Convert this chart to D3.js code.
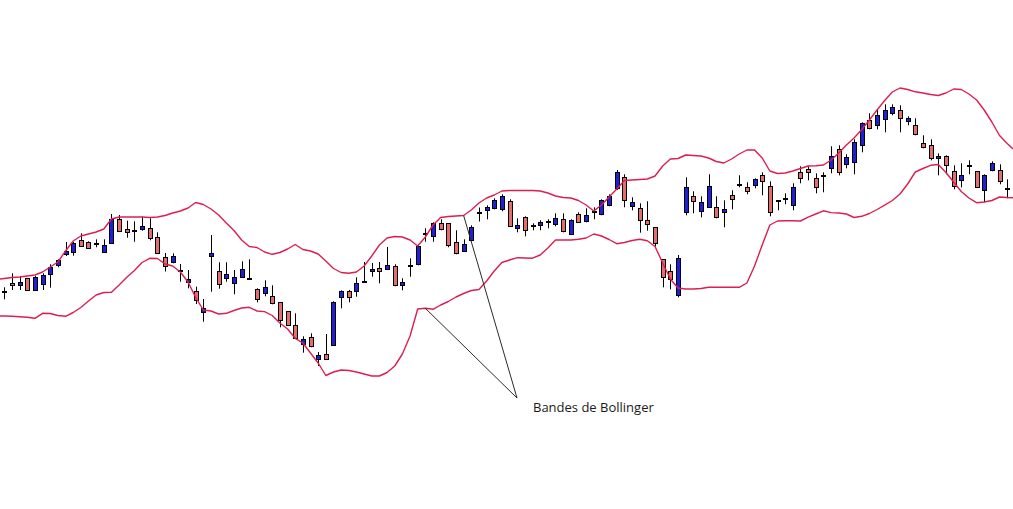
<!DOCTYPE html>
<html>
<head>
<meta charset="utf-8">
<script src="https://cdn.jsdelivr.net/npm/d3@7"></script>
<style>
  html, body { margin: 0; padding: 0; background: #ffffff; }
  svg { display: block; }
</style>
</head>
<body>
<div id="chart"></div>
<script>
// ---- Data (price units) ----
const opens = [208.3,216.7,214.7,221.7,209.7,215.7,225.7,234.7,245.7,248.3,259.7,257.7,256.3,248.3,257.3,280.7,271,269.3,271,272,263,243.5,238.3,229.3,217.7,209,188,243.7,228.7,221.7,216.7,222.7,221.3,210.7,206.7,203.7,197.7,188.7,174.7,156.5,162.7,140.7,145.7,154.7,202.7,208.7,208.7,218.3,228.7,231.7,230.7,233.7,214.7,234,235.7,265.7,263.7,276.7,276.7,257.7,249.5,259.7,287.5,289.7,291.7,290.7,298.7,271.7,282.7,273.7,274.7,277.7,275.7,280.7,265.7,285.7,278.7,287.7,285.7,294.7,312,322.7,293.7,291.7,279.7,272.7,240.7,228.7,204.7,287.7,303.7,288.7,292.7,292.7,287.7,304.7,314.7,312.7,314.7,324.7,313.7,298.7,300.7,294.7,327.7,330.7,321.7,323.7,331.7,350.7,335.7,337.7,354.7,379.7,374.7,380.7,386.7,389.7,378.7,374.7,356.7,354.7,341.7,343.7,328.7,319.7,333.7,328.7,309.7,329.7,329.7,310.7];
const highs = [212.7,226.7,224,222,224,226.7,235.7,240.7,258,258,266.7,258.7,260.7,260.7,286,285,279.3,278.7,283.3,281.7,267.7,247,246.7,236,230,213.3,201,265,237.7,237.7,230,238.7,240.7,211.7,219.7,214.7,198,189,186.7,163.7,166.7,148,166,198.7,209.7,210,222.7,238,237,238,253,235.7,221.7,241.7,255.7,271.7,277.7,280.7,276.7,269.7,260.7,274.7,292.5,294.7,301.7,305.7,300.7,281.7,283.7,276.7,279.7,280.7,286.7,286.7,280.7,287.7,291.7,292.7,300.7,305.7,330,325.7,302.7,296.7,298.7,272.7,240.7,235.7,245,322.7,308.7,303.7,325.7,303.7,299.7,309.7,324.7,317.7,321.7,327.7,318.7,299.7,306.7,316.7,333.7,333.7,326.7,327.7,353.7,354.7,345.7,360.7,377.7,386.7,390.7,395.7,395.7,394.7,383.7,381.7,364.7,360.7,346.7,344.7,334.7,336.7,339.7,328.7,325.7,338.7,335.7,320.7];
const lows = [200.7,210,210,210,209.3,210,212.3,232.7,244,244.3,253,251.3,252.7,247.7,256.3,268,262.3,258.3,269.3,259.7,246,228.5,236.7,218.3,211.7,196,178.3,208.3,211.3,218.3,205.7,222.7,220.7,197.7,203.7,195.7,172.7,174.3,161.7,147.3,152.7,134,140,154.7,191.7,197.7,203.3,217.3,223.3,216.7,230.7,213.7,209.7,223.3,234.7,258.3,258.3,269.7,252.7,245.7,248.7,258.7,278.5,280.7,290.7,288.7,273.7,267.7,263.7,269.7,269.7,271.7,273.7,267.7,265.7,277.7,277.7,280.7,284.7,293.7,310,292.7,289.7,267.3,269.3,253.3,212.7,210.7,202.7,284.7,286.7,282.7,292.7,281.7,272.7,290.7,312.7,305.7,311.7,304.7,283.7,289.7,295.7,289.7,316.7,319.7,306.7,307.7,326.7,324.7,331.7,325.7,347.7,370.7,370.7,367.7,384.7,367.7,374.7,364.7,351.7,339.7,324.7,325.7,310.7,312.7,325.7,312.7,297.7,328.7,315.7,301.7];
const closes = [208.3,214.7,218,210.3,222.7,225.3,233,240,249,256.7,253.7,252.3,256.3,255,280.7,268.7,267.7,269.3,273.7,261.7,246.7,233.5,243.7,229.3,221,200.3,191.7,246.7,215.7,225.7,222.7,230.7,221.3,200.7,212.7,196.7,179.7,174.7,161.7,161.5,153.7,144.7,140.7,197.7,208.7,202.7,216.7,218.3,230.7,228.7,234.7,214.7,217.7,234,253.7,265.7,276.7,270.7,254.7,246.7,255.7,272.7,287.5,292.7,299.7,303.7,273.7,274.7,269.7,273.7,277.7,277.7,281.7,268.7,279.7,277.7,284.7,287.7,299.7,303.7,328,299.7,297.7,279.7,275.7,256.7,222.7,220.7,241.7,312.7,298.7,297.7,313.7,282.7,290.7,300.7,314.7,308.7,320.7,318.7,287.7,298.7,300.7,312.7,321.7,327.7,312.7,323.7,343.7,327.7,342.7,357.7,376.7,371.7,384.7,389.7,392.7,381.7,381.7,365.7,352.7,341.7,343.7,334.7,313.7,324.7,333.7,312.7,324.7,336.7,318.7,310.7];
const upperBand = [221.5,222.5,223,224,225,228,233,238,249,259,264,266,268,271,281,283,283,283,283,282.5,283,284.5,287,289,292,297.5,295.5,291,285,277,269.5,260,253.5,252.5,248,245.7,247.5,251,255.5,250.5,249,246,239,231.5,227.5,226.7,228,234,244,255,262,263.5,263,260,254,263,275,282.5,283.5,284,284.5,290,297,302,305,309,309.5,309.5,309.5,309.5,309,307,304,302.5,302,299.5,295,289,295,303,311,319.5,320,320.5,321,324,334,341,341.5,345,344.5,344,342,338.5,337,341,346,350,350,342,329,326.5,327,329,331.5,334,334.3,335,340,347,355,362,370.5,380,390,399.5,408,412,410.5,408.2,407,405.5,404.5,407,411,410.5,406,400,390,378,364.5,356.5];
const lowerBand = [184,183.7,183.3,182.7,181.7,186.7,186.5,184.5,183.7,187.5,192.5,199,205,207.5,207.7,215,222.7,229.5,237.5,241.7,241.5,236,234,228,218,202.5,190,189,186,186.7,189.5,192,192.7,189,188.4,184.5,177,171,161.7,157,147,137,124.5,128,130,129.5,128,126,124,124,127.5,134,146,164,191,191.7,190.7,195,198.5,203,206.5,209.5,210.5,219,229,237.5,240,242.3,242,241.8,245,252,260,260,260,260.8,262,266,264,260.5,256.3,257.5,259.5,260.7,259.3,253.5,237,221,212,211,211,211.5,212.7,212.7,212.7,212.7,212.7,217,234,255,275,279,279.3,279.2,279,282.8,286,289.2,287.4,287,286,282.5,283.7,286.5,290.5,294.8,299.5,306,316,328,331.5,334.7,335.5,327.5,318,308.5,302,297.3,298,299.5,303,302.5];
// band values at the left and right edges of the plot
const upperEdges = [221, 351];
const lowerEdges = [184, 302.3];
const annotationLabel = "Bandes de Bollinger";
const annotationUpperIndex = 60;  // session pointed at on the upper band
const annotationLowerIndex = 55;  // session pointed at on the lower band

// ---- Layout ----
const W = 1013, H = 509;
const n = opens.length;
const sessions = opens.map((_, i) => i);

const svg = d3.select("#chart").append("svg")
  .attr("width", W).attr("height", H)
  .style("background", "#ffffff");

const x = d3.scaleLinear().domain([-0.56, n - 1 + 0.76]).range([0, W]);
const y = d3.scaleLinear().domain([0, 500]).range([500, 0]);

const UP = "#1f1fd8", DOWN = "#e46d6d", BAND = "#dc1f4f";

const candles = svg.append("g").attr("class", "candles");
sessions.forEach(i => {
  const o = opens[i], c = closes[i], h = highs[i], l = lows[i];
  const px = Math.round(x(i));
  const g = candles.append("g");
  g.append("line")
    .attr("x1", px + 0.5).attr("x2", px + 0.5)
    .attr("y1", y(h)).attr("y2", y(l))
    .attr("stroke", "#000").attr("stroke-width", 1);
  if (o === c) {
    g.append("rect")
      .attr("x", px - 2).attr("width", 5)
      .attr("y", Math.round(y(o)) - 1).attr("height", 2)
      .attr("fill", "#000");
  } else {
    const top = Math.round(y(Math.max(o, c)));
    const bot = Math.round(y(Math.min(o, c)));
    g.append("rect")
      .attr("x", px - 2 + 0.5).attr("width", 4)
      .attr("y", top + 0.5).attr("height", Math.max(1, bot - top))
      .attr("fill", c > o ? UP : DOWN)
      .attr("stroke", "#000").attr("stroke-width", 1);
  }
});

// ---- Bollinger bands ----
const bandLine = d3.line().x(d => x(d[0])).y(d => y(d[1]));
function bandPoints(arr, edges) {
  const pts = arr.map((v, i) => [i, v]);
  pts.unshift([x.domain()[0], edges[0]]);
  pts.push([x.domain()[1], edges[1]]);
  return pts;
}
[[upperBand, upperEdges], [lowerBand, lowerEdges]].forEach(([arr, edges]) => {
  svg.append("path")
    .attr("d", bandLine(bandPoints(arr, edges)))
    .attr("fill", "none")
    .attr("stroke", BAND)
    .attr("stroke-width", 1.4)
    .attr("stroke-linejoin", "round");
});

// ---- Annotation ----
const apex = [517, 398];
const ann = svg.append("g").attr("class", "annotation");
ann.append("line")
  .attr("x1", apex[0]).attr("y1", apex[1])
  .attr("x2", x(annotationUpperIndex)).attr("y2", y(upperBand[annotationUpperIndex]))
  .attr("stroke", "#2a2a2a").attr("stroke-width", 1);
ann.append("line")
  .attr("x1", apex[0]).attr("y1", apex[1])
  .attr("x2", x(annotationLowerIndex)).attr("y2", y(lowerBand[annotationLowerIndex]))
  .attr("stroke", "#2a2a2a").attr("stroke-width", 1);
ann.append("text")
  .attr("x", 533).attr("y", 412)
  .attr("font-family", "'Open Sans', sans-serif")
  .attr("font-size", 13)
  .attr("fill", "#1a1a1a")
  .text(annotationLabel);
</script>
</body>
</html>
